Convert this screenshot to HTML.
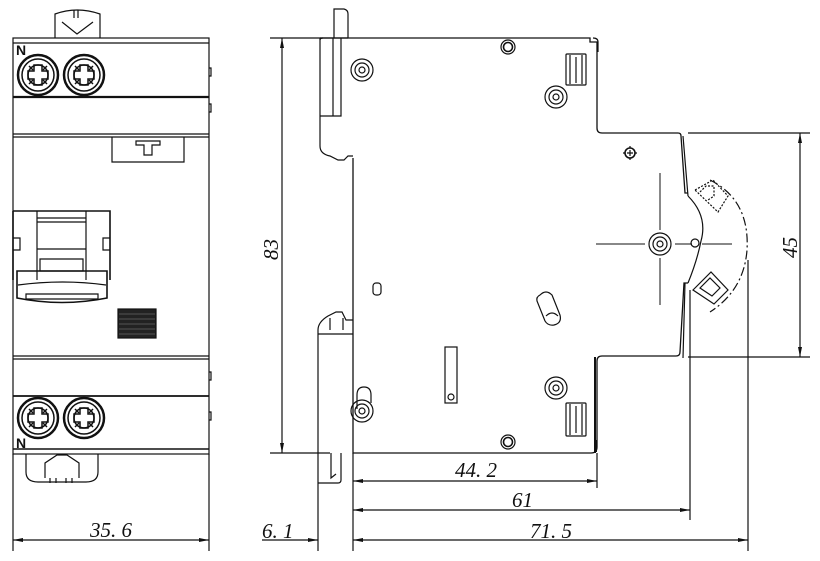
<!DOCTYPE html>
<html><head><meta charset="utf-8"><style>
html,body{margin:0;padding:0;background:#fff;width:820px;height:561px;overflow:hidden}
svg{display:block}
text{font-family:"Liberation Serif",serif;font-style:italic;font-size:21px;fill:#111;stroke:none}
</style></head><body>
<svg width="820" height="561" viewBox="0 0 820 561" fill="none" stroke="#111" stroke-width="1.2">
<defs>
<g id="term">
<circle r="20" stroke-width="2.5"/><circle r="16" stroke-width="1.5"/>
<circle r="10" stroke-width="1.5"/>
<path d="M-4,-10 h8 v6 h6 v8 h-6 v6 h-8 v-6 h-6 v-8 h6z" stroke-width="1.5"/>
<path d="M-9,-9 l4,4 M9,-9 l-4,4 M-9,9 l4,-4 M9,9 l-4,-4" stroke-width="1.5"/>
</g>
<g id="ring"><circle r="11"/><circle r="7"/><circle r="3"/></g>
<marker id="ar" viewBox="0 0 10 4" refX="10" refY="2" markerWidth="14" markerHeight="4" orient="auto-start-reverse" markerUnits="userSpaceOnUse"><path d="M0,0 L10,2 L0,4z" fill="#111" stroke="none"/></marker>
</defs>

<!-- LEFT VIEW -->
<path d="M55,38 V14 q22,-8 45,0 V38"/>
<path d="M62,22 l15,12 l16,-12 M74,10 v8 M78,10 v8"/>
<rect x="13" y="38" width="196" height="416"/>
<line x1="13" y1="43" x2="209" y2="43"/>
<line x1="13" y1="97" x2="209" y2="97" stroke-width="2.2"/>
<line x1="13" y1="134" x2="209" y2="134"/>
<line x1="13" y1="137" x2="209" y2="137"/>
<line x1="13" y1="356" x2="209" y2="356"/>
<line x1="13" y1="359" x2="209" y2="359"/>
<line x1="13" y1="396" x2="209" y2="396" stroke-width="1.8"/>
<line x1="13" y1="449" x2="209" y2="449" stroke-width="1.6"/>
<path d="M209,68 h2 v8 h-2 M209,104 h2 v8 h-2 M209,372 h2 v8 h-2 M209,412 h2 v8 h-2"/>
<path d="M112,137 V162 H184 V137 M136,141 h24 v4 h-8 v10 h-8 v-10 h-8z"/>
<use href="#term" x="38" y="75"/><use href="#term" x="84" y="75"/>
<use href="#term" x="38" y="418"/><use href="#term" x="84" y="418"/>
<text x="16" y="55" style="font-style:normal;font-weight:bold;font-size:14px;font-family:'Liberation Sans',sans-serif">N</text>
<text x="16" y="448" style="font-style:normal;font-weight:bold;font-size:14px;font-family:'Liberation Sans',sans-serif">N</text>
<path d="M26,454 V472 q0,10 12,10 H86 q12,0 12,-10 V454"/>
<path d="M45,478 V463 l12,-8 h10 l12,8 V478 M50,478 v5 M56,478 v5 M66,478 v5 M72,478 v5"/>
<path d="M13,211 H110 V280 M13,211 V280" stroke-width="1.6"/>
<path d="M37,211 V280 M86,211 V280 M37,218 H86 M37,222 H86 M37,249 H86 M13,238 h7 v12 h-7 M110,238 h-7 v12 h7 M40,259 H83 V271 H40z"/>
<path d="M17,271 H107 V298 q-45,9 -90,0z" stroke-width="1.6"/>
<path d="M18,285 q45,-6 88,0 M26,294 H98 V299 H26z"/>
<rect x="118" y="309" width="38" height="29" fill="#222"/>
<path d="M119,314 h36 M119,319 h36 M119,324 h36 M119,329 h36 M119,334 h36" stroke="#666" stroke-width="0.8"/>
<path d="M13,454 V551 M209,454 V551"/>
<line x1="13" y1="540" x2="209" y2="540" marker-start="url(#ar)" marker-end="url(#ar)"/>
<text x="90" y="537">35. 6</text>

<!-- RIGHT VIEW -->
<line x1="270" y1="38" x2="348" y2="38"/>
<line x1="270" y1="453" x2="330" y2="453"/>
<line x1="282" y1="38" x2="282" y2="453" marker-start="url(#ar)" marker-end="url(#ar)"/>
<text x="0" y="0" transform="translate(278,260) rotate(-90)">83</text>
<path d="M334,38 V9 H344 q4,1 4,5 V38"/>
<path d="M320,38 V146 q0,8 10,10 l8,4 h6 l4,-4 h5"/>
<path d="M320,40 q0,-2 3,-2 M333,38 V116 H341 V38 M320,116 H333"/>
<path d="M320,38 H590 q0,0 0,4 H597 V128 q0,5 5,5 H678 q3,0 3,3 L685,193 H688 M688,283 L684,283 L680,352 q0,4 -4,4 H602 q-5,0 -5,5 V447 q0,6 -6,6 H353 V158" stroke-width="1.3"/>
<path d="M593,38 q5,0 5,4 V52"/>
<path d="M595,357 V453 M596,440 v12" stroke-width="2"/>
<path d="M683,136 L688,196 M685,283 L683,358"/>
<path d="M318,483 V330 q0,-8 10,-14 l8,-4 h6 l4,8 h7 M330,318 v12 M343,318 v12 M318,334 h35"/>
<path d="M318,483 H338 q3,0 3,-3 V453 M331,453 V478 l5,-4"/>
<use href="#ring" x="362" y="70"/>
<use href="#ring" x="556" y="97"/>
<use href="#ring" x="556" y="388"/>
<use href="#ring" x="362" y="411"/>
<circle cx="508" cy="47" r="7"/><circle cx="508" cy="47" r="4.5" stroke-width="1.6"/>
<circle cx="508" cy="442" r="7"/><circle cx="508" cy="442" r="4.5" stroke-width="1.6"/>
<path d="M357,409 V395 q0,-8 7,-8 q7,0 7,8 V403"/>
<rect x="566" y="54" width="20" height="31" rx="1"/>
<path d="M570,55 V84 M582,55 V84 M576,57 V83"/>
<rect x="566" y="403" width="20" height="33" rx="1"/>
<path d="M570,404 V435 M582,404 V435 M576,406 V433"/>
<rect x="373" y="283" width="8" height="12" rx="3"/>
<rect x="445" y="347" width="12" height="56"/>
<circle cx="451" cy="397" r="3"/>
<path d="M540,295 q6,-6 12,0 l8,20 q2,8 -6,10 q-6,1 -9,-4 l-8,-20 q-1,-4 3,-6z M546,316 q6,-6 12,0"/>
<circle cx="630" cy="153" r="5" stroke-width="1.6"/>
<path d="M627,153 h6 M630,150 v6 M630,146 v2 M630,158 v2 M623,153 h2 M635,153 h2"/>
<use href="#ring" x="660" y="244"/>
<path d="M596,244 H645 M675,244 H692 M702,244 H732 M660,173 V230 M660,258 V305" stroke-width="1"/>
<circle cx="695" cy="243" r="4"/>
<path d="M688,196 q20,20 13,45 q-4,20 -13,42"/>
<path d="M695,190 l18,-10 l15,16 l-10,16 z M700,192 l6,-6 h8 v10 l-6,4" stroke-dasharray="2,1.5"/>
<path d="M693,290 l18,-18 l17,18 l-14,14z M700,288 l10,-10 l10,10 l-8,8z"/>
<path d="M710,180 q40,20 37,70 q-3,40 -37,62" stroke-dasharray="9,3,2,3"/>
<line x1="688" y1="133" x2="810" y2="133"/>
<line x1="688" y1="357" x2="810" y2="357"/>
<line x1="800" y1="133" x2="800" y2="357" marker-start="url(#ar)" marker-end="url(#ar)"/>
<text x="0" y="0" transform="translate(797,258) rotate(-90)">45</text>
<path d="M353,453 V551 M597,453 V488 M690,290 V520 M748,260 V551 M318,483 V551"/>
<line x1="353" y1="481" x2="597" y2="481" marker-start="url(#ar)" marker-end="url(#ar)"/>
<text x="455" y="477">44. 2</text>
<line x1="353" y1="510" x2="690" y2="510" marker-start="url(#ar)" marker-end="url(#ar)"/>
<text x="512" y="507">61</text>
<line x1="353" y1="540" x2="748" y2="540" marker-start="url(#ar)" marker-end="url(#ar)"/>
<text x="530" y="538">71. 5</text>
<line x1="262" y1="540" x2="318" y2="540" marker-end="url(#ar)"/>
<text x="262" y="538">6. 1</text>
</svg>
</body></html>
